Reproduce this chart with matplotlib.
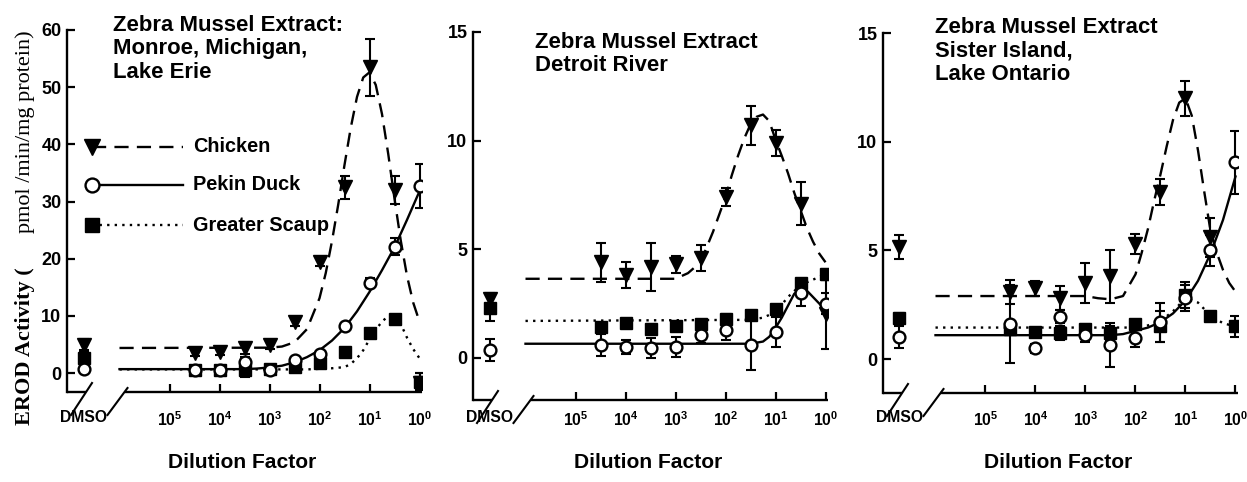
import numpy as np
import matplotlib
matplotlib.use("Agg")
import matplotlib.pyplot as plt
from matplotlib import font_manager as fm

# x positions are log10 of the dilution factor (10^0 = undiluted extract)
log_dil = [-4.5, -4.0, -3.5, -3.0, -2.5, -2.0, -1.5, -1.0, -0.5, 0.0]
dmso_x = -6.72
tick_pos = [-5, -4, -3, -2, -1, 0]
tick_exp = ["5", "4", "3", "2", "1", "0"]

# ---- Monroe, Michigan, Lake Erie ----
erie_chicken = [3.5, 3.7, 4.4, 4.9, 8.9, 19.5, 32.5, 53.5, 32.0, -1.8]
erie_chicken_err = [0.5, 0.5, 1.0, 0.6, 0.6, 0.8, 2.0, 5.0, 2.5, 1.8]
erie_duck = [0.6, 0.6, 2.0, 0.6, 2.3, 3.3, 8.2, 15.8, 22.1, 32.7]
erie_duck_err = [0.3, 0.3, 0.8, 0.3, 0.5, 0.5, 0.6, 0.8, 1.5, 3.9]
erie_scaup = [0.5, 0.5, 0.5, 0.7, 1.0, 1.8, 3.7, 7.0, 9.5, -1.5]
erie_scaup_err = [0.4, 0.4, 1.2, 0.4, 0.4, 0.4, 0.5, 0.6, 0.6, 1.5]
erie_dmso = [5.0, 0.8, 2.6]          # chicken, duck, scaup
erie_dmso_err = [1.0, 0.6, 1.2]

# ---- Detroit River ----
detroit_chicken = [4.4, 3.8, 4.2, 4.3, 4.6, 7.4, 10.7, 9.9, 7.1, 2.0]
detroit_chicken_err = [0.9, 0.6, 1.1, 0.4, 0.6, 0.4, 0.9, 0.6, 1.0, 1.6]
detroit_duck = [0.6, 0.5, 0.45, 0.5, 1.05, 1.3, 0.6, 1.2, 3.0, 2.5]
detroit_duck_err = [0.5, 0.3, 0.45, 0.45, 0.35, 0.5, 1.15, 0.7, 0.6, 0.5]
detroit_scaup = [1.4, 1.6, 1.35, 1.45, 1.55, 1.8, 1.95, 2.25, 3.45, 3.85]
detroit_scaup_err = [0.2, 0.2, 0.2, 0.2, 0.2, 0.2, 0.2, 0.2, 0.2, 0.25]
detroit_dmso = [2.7, 0.35, 2.3]
detroit_dmso_err = [0.3, 0.5, 0.6]

# ---- Sister Island, Lake Ontario ----
ontario_chicken = [3.1, 3.25, 2.8, 3.5, 3.8, 5.3, 7.7, 12.0, 5.6, np.nan]
ontario_chicken_err = [0.55, 0.35, 0.55, 0.9, 1.2, 0.45, 0.6, 0.8, 0.9, np.nan]
ontario_duck = [1.6, 0.5, 1.95, 1.1, 0.65, 0.95, 1.7, 2.8, 5.0, 9.05]
ontario_duck_err = [1.8, 0.2, 0.3, 0.3, 1.0, 0.4, 0.9, 0.6, 0.7, 1.45]
ontario_scaup = [1.4, 1.25, 1.2, 1.4, 1.2, 1.6, 1.5, 2.95, 2.0, 1.5]
ontario_scaup_err = [0.2, 0.15, 0.3, 0.2, 0.3, 0.2, 0.7, 0.6, 0.15, 0.5]
ontario_dmso = [5.15, 1.0, 1.9]
ontario_dmso_err = [0.55, 0.5, 0.2]

# fitted curves
chicken_curve_x = [-6.0, -3.0, -2.75, -2.5, -2.25, -2.0, -1.875, -1.75, -1.625, -1.5, -1.375,
                   -1.25, -1.125, -1.0, -0.875, -0.75, -0.625, -0.5, -0.375, -0.25, -0.125, 0.0]
erie_chicken_curve = [4.4, 4.45, 4.65, 5.4, 7.7, 13.1, 17.5, 23.1, 29.5, 36.4, 42.9,
                      48.3, 51.7, 52.6, 50.4, 45.3, 38.3, 30.5, 23.2, 17.0, 12.3, 9.0]
detroit_chicken_curve = [3.64, 3.64, 3.9, 4.4, 5.8, 7.4, 8.4, 9.3, 10.1, 10.75, 11.1,
                         11.2, 10.9, 10.05, 9.3, 8.5, 7.6, 6.8, 6.0, 5.35, 4.8, 4.4]
ontario_chicken_curve = [2.9, 2.9, 2.8, 2.75, 2.9, 3.9, 4.9, 6.0, 7.3, 8.5, 9.8,
                         11.0, 11.8, 12.0, 11.2, 9.6, 7.7, 5.9, 4.9, 4.1, 3.5, 3.1]

erie_duck_curve_x = [-6.0, -3.5, -3.25, -3.0, -2.75, -2.5, -2.25, -2.0, -1.75, -1.5, -1.25,
                     -1.0, -0.75, -0.5, -0.25, 0.0]
erie_duck_curve = [0.7, 0.7, 0.8, 1.0, 1.3, 1.9, 2.8, 4.0, 5.7, 7.9, 10.8,
                   14.2, 18.0, 22.0, 26.8, 31.8]
erie_scaup_curve_x = [-6.0, -2.25, -2.0, -1.75, -1.5, -1.375, -1.25, -1.125, -1.0, -0.875,
                      -0.75, -0.625, -0.5, -0.375, -0.25, -0.125, 0.0]
erie_scaup_curve = [0.65, 0.65, 0.75, 0.85, 1.05, 1.6, 2.6, 4.0, 5.9, 7.6,
                    9.0, 10.0, 10.3, 8.6, 6.2, 4.2, 2.6]

detroit_duck_curve_x = [-6.0, -1.5, -1.25, -1.125, -1.0, -0.875, -0.75, -0.625, -0.5,
                        -0.375, -0.25, -0.125, 0.0]
detroit_duck_curve = [0.65, 0.65, 0.75, 0.97, 1.38, 1.85, 2.4, 2.95, 3.15, 3.1, 2.8, 2.5, 2.2]
detroit_scaup_curve_x = [-6.0, -1.5, -1.25, -1.0, -0.75, -0.5, -0.25, 0.0]
detroit_scaup_curve = [1.7, 1.75, 1.85, 2.1, 2.8, 3.35, 3.6, 3.85]

ontario_duck_curve_x = [-6.0, -2.5, -2.25, -2.0, -1.75, -1.5, -1.25, -1.0, -0.75, -0.5, -0.25, 0.0]
ontario_duck_curve = [1.1, 1.1, 1.15, 1.3, 1.45, 1.7, 2.1, 2.7, 3.6, 4.85, 6.4, 8.4]
ontario_scaup_curve_x = [-6.0, -2.0, -1.75, -1.5, -1.25, -1.0, -0.75, -0.5, -0.25, 0.0]
ontario_scaup_curve = [1.45, 1.45, 1.55, 1.75, 2.2, 2.8, 2.6, 2.0, 1.65, 1.5]

titles = ["Zebra Mussel Extract:\nMonroe, Michigan,\nLake Erie",
          "Zebra Mussel Extract\nDetroit River",
          "Zebra Mussel Extract\nSister Island,\nLake Ontario"]

# ---------------------------------------------------------------------------
names = {f.name for f in fm.fontManager.ttflist}
if "Liberation Sans Narrow" in names:
    SANS, K = "Liberation Sans Narrow", 1.0
else:
    SANS, K = "Liberation Sans", 0.84
plt.rcParams["font.family"] = [SANS, "DejaVu Sans"]
plt.rcParams["mathtext.fontset"] = "custom"
plt.rcParams["mathtext.rm"] = SANS
plt.rcParams["mathtext.bf"] = SANS + ":bold"

W, H = 1247, 482
fig = plt.figure(figsize=(W / 100, H / 100), dpi=100)

DASH = (0, (6, 3.5))
DOT = (0, (1, 2.2))
XL = (-7.05, 0.05)

# axes boxes in pixels: left, top, bottom
boxes = [(67, 30, 392), (473, 32, 400), (883, 33, 393)]
ylims = [(-3.3, 60), (-1.94, 15), (-1.56, 15)]
yticks = [[0, 10, 20, 30, 40, 50, 60], [0, 5, 10, 15], [0, 5, 10, 15]]
title_pos = [(113, 15), (535, 32), (935, 17)]
xpads = [13, 7.5, 12.5]

panels = [
    (erie_chicken, erie_chicken_err, erie_duck, erie_duck_err, erie_scaup, erie_scaup_err,
     erie_dmso, erie_dmso_err, erie_chicken_curve, erie_duck_curve_x, erie_duck_curve,
     erie_scaup_curve_x, erie_scaup_curve),
    (detroit_chicken, detroit_chicken_err, detroit_duck, detroit_duck_err, detroit_scaup,
     detroit_scaup_err, detroit_dmso, detroit_dmso_err, detroit_chicken_curve,
     detroit_duck_curve_x, detroit_duck_curve, detroit_scaup_curve_x, detroit_scaup_curve),
    (ontario_chicken, ontario_chicken_err, ontario_duck, ontario_duck_err, ontario_scaup,
     ontario_scaup_err, ontario_dmso, ontario_dmso_err, ontario_chicken_curve,
     ontario_duck_curve_x, ontario_duck_curve, ontario_scaup_curve_x, ontario_scaup_curve),
]

ebkw = dict(fmt="none", ecolor="k", elinewidth=1.5, capsize=3.8, capthick=1.5, zorder=3)
mk = {
    "chicken": dict(marker="v", ms=10.5, mfc="k", mec="k", ls="none", zorder=4),
    "duck": dict(marker="o", ms=8.5, mfc="white", mec="k", mew=1.7, ls="none", zorder=5),
    "scaup": dict(marker="s", ms=8.5, mfc="k", mec="k", ls="none", zorder=4),
}

for i, (pan, (lpx, tpx, bpx)) in enumerate(zip(panels, boxes)):
    (ch, che, du, due, sc, sce, dm, dme, chc, dux, duc, scx, scc) = pan
    wpx = (XL[1] - XL[0]) * 50
    ax = fig.add_axes([lpx / W, (H - bpx) / H, wpx / W, (bpx - tpx) / H])
    ax.set_xlim(*XL)
    ax.set_ylim(*ylims[i])

    # fitted curves
    ax.plot(chicken_curve_x, chc, color="k", lw=1.7, ls=DASH, zorder=2)
    ax.plot(dux, duc, color="k", lw=1.7, ls="-", zorder=2)
    ax.plot(scx, scc, color="k", lw=1.7, ls=DOT, zorder=2)

    # data points with error bars
    for y, e, key in [(sc, sce, "scaup"), (ch, che, "chicken"), (du, due, "duck")]:
        ax.errorbar(log_dil, y, yerr=e, **ebkw)
        ax.plot(log_dil, y, **mk[key])
    for j, key in enumerate(["chicken", "duck", "scaup"]):
        ax.errorbar([dmso_x], [dm[j]], yerr=[dme[j]], **ebkw)
        ax.plot([dmso_x], [dm[j]], **mk[key])

    # axes styling
    for s in ["top", "right", "bottom"]:
        ax.spines[s].set_visible(False)
    ax.spines["left"].set_linewidth(1.7)
    ax.set_yticks(yticks[i])
    ax.set_yticklabels([str(v) for v in yticks[i]], fontfamily="Liberation Sans",
                       fontweight="bold", fontsize=13)
    ax.set_xticks([dmso_x] + tick_pos)
    ax.set_xticklabels(["DMSO"] + [r"$\mathbf{10^{%s}}$" % t for t in tick_exp],
                       fontweight="bold", fontsize=13.5 * K)
    ax.tick_params(axis="both", direction="in", length=6, width=1.6)
    ax.tick_params(axis="x", pad=xpads[i])
    ax.tick_params(axis="y", pad=4)
    ax.xaxis.get_major_ticks()[0].tick1line.set_visible(False)

    # broken x axis
    xt = ax.get_xaxis_transform()
    b1, b2 = -6.67, -5.9
    ax.plot([XL[0], b1], [0, 0], transform=xt, color="k", lw=1.7, clip_on=False,
            solid_capstyle="butt")
    ax.plot([b2, XL[1]], [0, 0], transform=xt, color="k", lw=1.7, clip_on=False,
            solid_capstyle="butt")
    hpx = bpx - tpx
    for bx, (dx0, dy0, dx1, dy1) in [(b1, (-15, -23, 6, 9)), (b2, (-17, -23, 3, 4))]:
        xf = (bx - XL[0]) / (XL[1] - XL[0])
        ax.plot([xf + dx0 / wpx, xf + dx1 / wpx], [dy0 / hpx, dy1 / hpx],
                transform=ax.transAxes, color="k", lw=1.5, clip_on=False)

    # panel title
    tx, ty = title_pos[i]
    fig.text(tx / W, 1 - ty / H, titles[i], ha="left", va="top", fontsize=19 * K,
             fontweight="bold", linespacing=1.15)

    fig.text((lpx + wpx / 2 - 2) / W, 1 - 463 / H, "Dilution Factor", ha="center",
             va="center", fontsize=18 * K, fontweight="bold")

    if i == 0:
        # legend drawn by hand to match the original layout
        leg = [("Chicken", "chicken", DASH, 0.677, 12),
               ("Pekin Duck", "duck", "-", 0.572, 10),
               ("Greater Scaup", "scaup", DOT, 0.461, 10.5)]
        for label, key, ls, yy, ms in leg:
            ax.plot([0.07, 0.327], [yy, yy], transform=ax.transAxes, color="k",
                    lw=1.7, ls=ls, zorder=2)
            kw = dict(mk[key])
            kw["ms"] = ms
            ax.plot([0.07], [yy], transform=ax.transAxes, **kw)
            ax.text(0.355, yy, label, transform=ax.transAxes, ha="left", va="center",
                    fontsize=17 * K, fontweight="bold")

# y axis label
fig.text(25 / W, 1 - 425 / H, "EROD Activity (", rotation=90, ha="center", va="bottom",
         fontfamily="Liberation Serif", fontweight="bold", fontsize=16)
fig.text(25 / W, 1 - 30 / H, "pmol /min/mg protein)", rotation=90, ha="center", va="top",
         fontfamily="Liberation Serif", fontsize=16)

fig.savefig("out.png", dpi=100)
